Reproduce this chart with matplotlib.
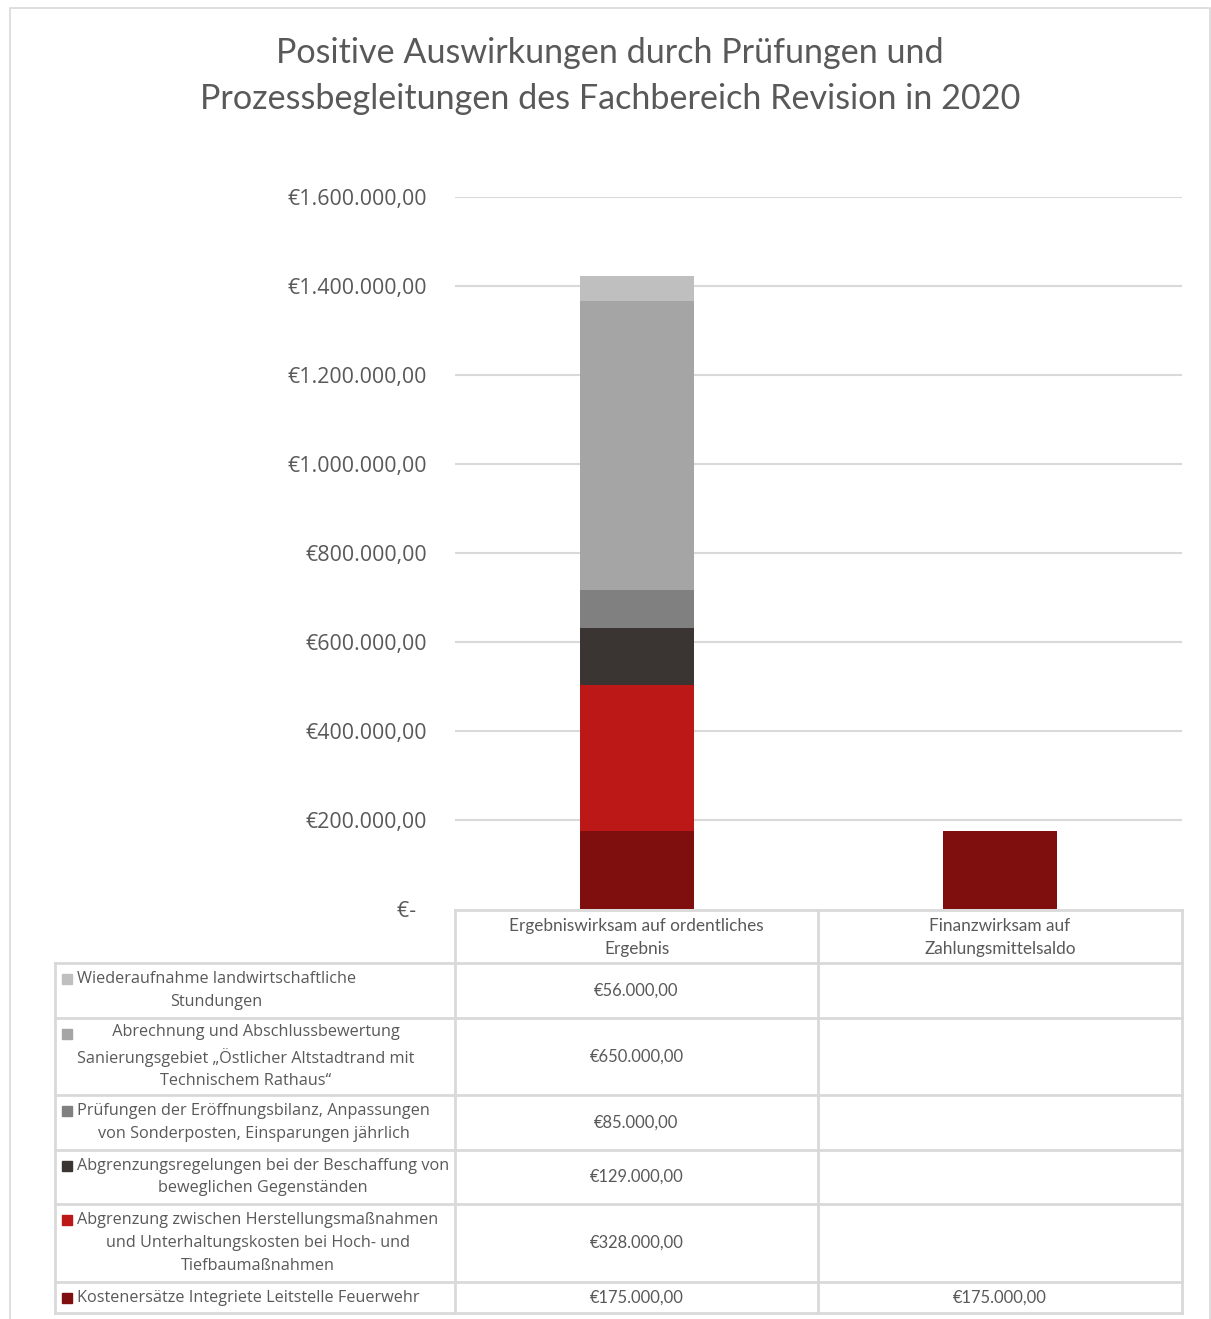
import numpy as np
import matplotlib.pyplot as plt
from matplotlib.patches import Rectangle

# --- Daten ---
categories = ["Ergebniswirksam auf ordentliches\nErgebnis", "Finanzwirksam auf\nZahlungsmittelsaldo"]
series = [
    "Kostenersätze Integriete Leitstelle Feuerwehr",
    "Abgrenzung zwischen Herstellungsmaßnahmen\nund Unterhaltungskosten bei Hoch- und\nTiefbaumaßnahmen",
    "Abgrenzungsregelungen bei der Beschaffung von\nbeweglichen Gegenständen",
    "Prüfungen der Eröffnungsbilanz, Anpassungen\nvon Sonderposten, Einsparungen jährlich",
    "     Abrechnung und Abschlussbewertung\nSanierungsgebiet „Östlicher Altstadtrand mit\nTechnischem Rathaus“",
    "Wiederaufnahme landwirtschaftliche\nStundungen",
]
ergebnis = [175000, 328000, 129000, 85000, 650000, 56000]
finanz = [175000, np.nan, np.nan, np.nan, np.nan, np.nan]
colors = ["#7F0E0E", "#BC1818", "#3A3532", "#808080", "#A5A5A5", "#BFBFBF"]
yticks = [0, 200000, 400000, 600000, 800000, 1000000, 1200000, 1400000, 1600000]

TXT = "#595959"
GRID = "#D9D9D9"
W, H = 1211, 1319


def euro(v):
    if v == 0:
        return "€-  "
    s = f"{v:,.2f}".replace(",", "X").replace(".", ",").replace("X", ".")
    return "€" + s


fig = plt.figure(figsize=(W / 100, H / 100), dpi=100)

# äußerer Rahmen
fig.patches.append(Rectangle((10 / W, -0.01), 1200 / W, (H - 8) / H + 0.01,
                             transform=fig.transFigure, fill=False, ec=GRID, lw=1.2))

fig.text(610 / W, 1 - 53 / H, "Positive Auswirkungen durch Prüfungen und", ha="center", va="center",
         fontsize=24.6, color=TXT, family="Lato")
fig.text(610 / W, 1 - 99 / H, "Prozessbegleitungen des Fachbereich Revision in 2020", ha="center", va="center",
         fontsize=24.6, color=TXT, family="Lato")

# --- Diagramm ---
ax = fig.add_axes([455 / W, 1 - 909 / H, (1182 - 455) / W, (909 - 197) / H])
x = np.arange(len(categories))
bottom = np.zeros(len(categories))
for i in range(len(series)):
    vals = np.array([ergebnis[i], finanz[i]], dtype=float)
    v = np.nan_to_num(vals)
    ax.bar(x, v, 0.314, bottom=bottom, color=colors[i], zorder=3)
    bottom += v

ax.set_xlim(-0.5, 1.5)
ax.set_ylim(0, 1600000)
ax.set_yticks(yticks)
ax.set_yticklabels([euro(t) for t in yticks], fontsize=15.4, color=TXT, family="Open Sans")
ax.tick_params(axis="y", length=0, pad=20)
ax.set_xticks([])
for t in yticks[1:]:
    ax.axhline(t, color=GRID, lw=1.5, zorder=1)
for s in ax.spines.values():
    s.set_visible(False)

# --- Datentabelle ---
tax = fig.add_axes([0, 0, 1, 1])
tax.set_xlim(0, W)
tax.set_ylim(H, 0)
tax.axis("off")

rows = [910, 963, 1018, 1095, 1150, 1204, 1282, 1313]
cols = [55, 455, 818, 1182]
line_h = 22.7

# Linien
tax.plot([455, 1182], [rows[0], rows[0]], color=GRID, lw=2)
for r in rows[1:]:
    tax.plot([cols[0], cols[-1]], [r, r], color=GRID, lw=2)
tax.plot([cols[0], cols[0]], [rows[1], rows[-1]], color=GRID, lw=2)
for c in cols[1:]:
    tax.plot([c, c], [rows[0], rows[-1]], color=GRID, lw=2)

# Kopfzeile
for j, cat in enumerate(categories):
    tax.text((cols[j + 1] + cols[j + 2]) / 2, (rows[0] + rows[1]) / 2 + 1, cat, ha="center", va="center",
             fontsize=12.4, color=TXT, family="Lato", linespacing=1.6)

# Zeilen (oben = oberstes Segment)
order = list(range(len(series)))[::-1]
for k, i in enumerate(order):
    y0, y1 = rows[k + 1], rows[k + 2]
    yc = (y0 + y1) / 2
    nl = series[i].count("\n") + 1
    ytop = yc - (nl - 1) / 2 * line_h
    tax.add_patch(Rectangle((62, ytop - 5), 10, 10, color=colors[i]))
    tax.text(77, yc, series[i], ha="left", va="center", multialignment="center",
             fontsize=11.7, color=TXT, family="Open Sans", linespacing=1.55)
    for j, vals in enumerate([ergebnis, finanz]):
        if not np.isnan(vals[i]):
            tax.text((cols[j + 1] + cols[j + 2]) / 2, yc, euro(vals[i]), ha="center", va="center",
                     fontsize=11.9, color=TXT, family="Lato")

fig.savefig("out.png", dpi=100)
